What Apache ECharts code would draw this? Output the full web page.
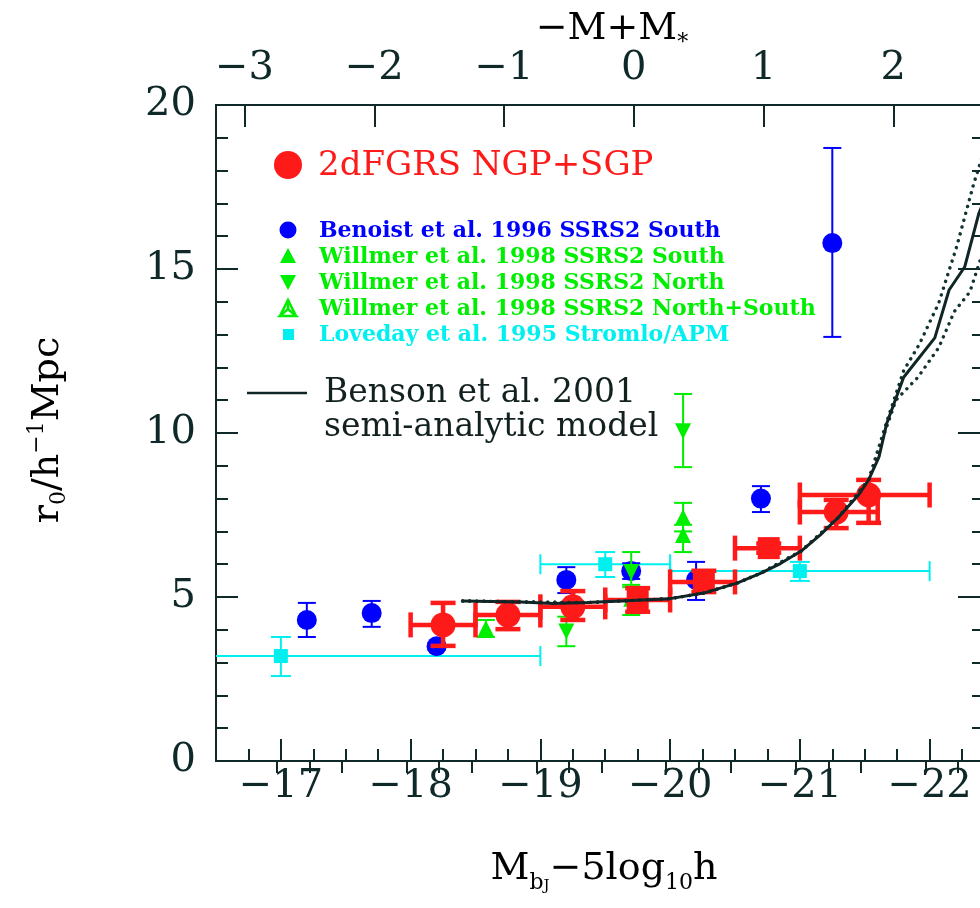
<!DOCTYPE html>
<html><head><meta charset="utf-8">
<script src="https://cdn.jsdelivr.net/npm/echarts@6/dist/echarts.min.js"></script>
<style>html,body{margin:0;padding:0;background:#fff}#c{width:980px;height:908px}</style>
</head><body><div id="c"></div>
<script>
// ---------------- axes ----------------
const X_MIN = -22.45, X_MAX = -16.5;          // M_bJ - 5log10 h (reversed axis)
const M_STAR = -19.72;                          // top axis: -M + M*
const Y_MIN = 0, Y_MAX = 20;
const xMajorTicks = [-17, -18, -19, -20, -21, -22];
const xMinorTicks = [-16.75, -17.25, -17.5, -17.75, -18.25, -18.5, -18.75, -19.25, -19.5, -19.75,
  -20.25, -20.5, -20.75, -21.25, -21.5, -21.75, -22.25];
const topMajorTicks = [-3, -2, -1, 0, 1, 2];
const topMinorTicks = [-2.75, -2.5, -2.25, -1.75, -1.5, -1.25, -0.75, -0.5, -0.25,
  0.25, 0.5, 0.75, 1.25, 1.5, 1.75, 2.25, 2.5];

// ---------------- 2dFGRS NGP+SGP (red) ----------------
const red_M   = [-18.25, -18.75, -19.25, -19.75, -20.26, -20.76, -21.28, -21.53];
const red_r   = [4.15, 4.45, 4.70, 4.91, 5.46, 6.49, 7.59, 8.11];
const red_rlo = [3.51, 4.02, 4.30, 4.55, 5.15, 6.35, 7.10, 7.26];
const red_rhi = [4.82, 4.85, 5.18, 5.27, 5.80, 6.63, 7.96, 8.57];
const red_Mlo = [-18.0, -18.5, -19.0, -19.5, -20.0, -20.5, -21.0, -21.0];
const red_Mhi = [-18.5, -19.0, -19.5, -20.0, -20.5, -21.0, -21.6, -22.0];
const red_sym = ['circle', 'circle', 'circle', 'rect', 'rect', 'rect', 'circle', 'circle'];

// ---------------- Benoist et al. 1996 (blue) ----------------
const ben_M   = [-17.20, -17.70, -18.20, -19.20, -19.70, -20.20, -20.70, -21.25];
const ben_r   = [4.30, 4.51, 3.50, 5.52, 5.79, 5.52, 8.00, 15.79];
const ben_rlo = [3.78, 4.09, 3.40, 5.12, 5.55, 4.91, 7.59, 12.93];
const ben_rhi = [4.82, 4.88, 3.60, 5.91, 6.03, 6.07, 8.38, 18.69];

// ---------------- Willmer et al. 1998 (green) ----------------
const wS_M   = [-18.58, -19.70, -20.10];
const wS_r   = [4.05, 4.95, 7.44];
const wS_rlo = [3.78, 4.45, 7.00];
const wS_rhi = [4.30, 5.30, 7.87];
const wN_M   = [-19.20, -19.70, -20.10];
const wN_r   = [3.95, 5.76, 10.05];
const wN_rlo = [3.50, 5.37, 8.96];
const wN_rhi = [4.40, 6.37, 11.19];
const wNS_M   = [-20.10];
const wNS_r   = [6.89];
const wNS_rlo = [6.37];
const wNS_rhi = [7.20];

// ---------------- Loveday et al. 1995 (cyan) ----------------
const lov_M   = [-17.0, -19.5, -21.0];
const lov_r   = [3.20, 6.00, 5.79];
const lov_rlo = [2.59, 5.61, 5.49];
const lov_rhi = [3.78, 6.37, 6.07];
const lov_Mlo = [-16.0, -19.0, -20.0];
const lov_Mhi = [-19.0, -20.0, -22.0];

// ---------------- Benson et al. 2001 model ----------------
const model_M = [-18.40, -18.85, -19.10, -19.36, -19.62, -20.00, -20.26, -20.52, -20.70, -20.85,
  -21.01, -21.16, -21.30, -21.45, -21.53, -21.61, -21.67, -21.80, -22.04, -22.15, -22.27, -22.38, -22.50];
const model_r = [4.88, 4.85, 4.80, 4.83, 4.88, 4.95, 5.12, 5.43, 5.73, 6.02,
  6.40, 6.90, 7.44, 8.10, 8.57, 9.27, 10.30, 11.70, 12.90, 14.36, 15.06, 16.70, 17.90];
const modelHi_M = [-18.40, -18.85, -19.36, -19.62, -20.00, -20.26, -20.52, -20.70, -21.01, -21.30,
  -21.53, -21.67, -21.80, -21.92, -22.07, -22.21, -22.34, -22.50];
const modelHi_r = [4.88, 4.85, 4.83, 4.88, 4.95, 5.12, 5.43, 5.73, 6.40, 7.44,
  8.57, 10.35, 11.90, 12.70, 13.96, 15.70, 17.60, 19.60];
const modelLo_M = [-18.40, -18.85, -19.36, -19.62, -20.00, -20.26, -20.52, -20.70, -21.01, -21.30,
  -21.53, -21.67, -21.74, -21.91, -22.07, -22.19, -22.31, -22.50];
const modelLo_r = [4.88, 4.85, 4.83, 4.88, 4.95, 5.12, 5.43, 5.73, 6.40, 7.44,
  8.57, 10.20, 11.00, 11.70, 12.60, 13.70, 14.30, 16.60];

// ---------------- colours / fonts ----------------
const AX = '#0f2828';
const RED = '#ff1a1a', BLUE = '#0000ff', GREEN = '#00ee00', CYAN = '#00f0f0';
const SERIF = '"DejaVu Serif", "Liberation Serif", serif';
const minus = v => String(v).replace('-', '\u2212');

function errRender(color, lw, cap, hasX) {
  return function (params, api) {
    const x = api.value(0), y = api.value(1);
    const st = { stroke: color, lineWidth: lw, fill: null };
    const kids = [];
    const seg = (a, b) => kids.push({ type: 'line', shape: { x1: a[0], y1: a[1], x2: b[0], y2: b[1] }, style: st });
    const lo = api.coord([x, api.value(2)]), hi = api.coord([x, api.value(3)]);
    seg(lo, hi);
    seg([lo[0] - cap / 2, lo[1]], [lo[0] + cap / 2, lo[1]]);
    seg([hi[0] - cap / 2, hi[1]], [hi[0] + cap / 2, hi[1]]);
    if (hasX) {
      const l = api.coord([api.value(4), y]), r = api.coord([api.value(5), y]);
      seg(l, r);
      seg([l[0], l[1] - cap / 2], [l[0], l[1] + cap / 2]);
      seg([r[0], r[1] - cap / 2], [r[0], r[1] + cap / 2]);
    }
    const cs = params.coordSys;
    return { type: 'group', children: kids,
      clipPath: { type: 'rect', shape: { x: cs.x, y: cs.y, width: cs.width, height: cs.height } } };
  };
}
function errSeries(name, M, r, lo, hi, Mlo, Mhi, color, lw, cap, z) {
  const hasX = !!Mlo;
  const data = M.map((m, i) => hasX ? [m, r[i], lo[i], hi[i], Mlo[i], Mhi[i]] : [m, r[i], lo[i], hi[i]]);
  return { type: 'custom', name: name + ' err', data, renderItem: errRender(color, lw, cap, hasX),
    encode: { x: 0, y: 1 }, z, silent: true };
}
function pts(M, r) { return M.map((m, i) => [m, r[i]]); }

const TRI_PATH = 'path://M0,-10L8.66,5L-8.66,5Z';

const chart = echarts.init(document.getElementById('c'), null, { renderer: 'canvas' });

const grid = { left: 216, top: 105, width: 772, height: 656, outerBoundsMode: 'none', containLabel: false };
const tickStyle = { color: AX, width: 2 };

const option = {
  backgroundColor: '#fff',
  animation: false,
  grid,
  xAxis: [
    { type: 'value', min: X_MIN, max: X_MAX, inverse: true, position: 'bottom',
      axisLine: { show: true, onZero: false, lineStyle: { color: AX, width: 2 } },
      axisTick: { show: true, inside: true, length: 22, customValues: xMajorTicks, lineStyle: tickStyle },
      axisLabel: { show: true, customValues: xMajorTicks, margin: 6, formatter: minus,
        fontFamily: SERIF, fontSize: 40, color: AX },
      splitLine: { show: false } },
    { type: 'value', min: X_MIN, max: X_MAX, inverse: true, position: 'bottom',
      axisLine: { show: false },
      axisTick: { show: true, inside: true, length: 12, customValues: xMinorTicks, lineStyle: tickStyle },
      axisLabel: { show: false }, splitLine: { show: false } },
    { type: 'value', min: -X_MAX + M_STAR, max: -X_MIN + M_STAR, position: 'top',
      axisLine: { show: true, onZero: false, lineStyle: { color: AX, width: 2 } },
      axisTick: { show: true, inside: true, length: 22, customValues: topMajorTicks, lineStyle: tickStyle },
      axisLabel: { show: true, customValues: topMajorTicks, margin: 16, formatter: minus,
        fontFamily: SERIF, fontSize: 40, color: AX },
      splitLine: { show: false } },
    { type: 'value', min: -X_MAX + M_STAR, max: -X_MIN + M_STAR, position: 'top',
      axisLine: { show: false },
      axisTick: { show: true, inside: true, length: 12, customValues: topMinorTicks, lineStyle: tickStyle },
      axisLabel: { show: false }, splitLine: { show: false } }
  ],
  yAxis: [
    { type: 'value', min: Y_MIN, max: Y_MAX, interval: 5, position: 'left',
      axisLine: { show: true, onZero: false, lineStyle: { color: AX, width: 2 } },
      axisTick: { show: true, inside: true, length: 22, lineStyle: tickStyle },
      minorTick: { show: true, splitNumber: 5, length: 12, lineStyle: tickStyle },
      axisLabel: { show: true, margin: 20, fontFamily: SERIF, fontSize: 40, color: AX },
      splitLine: { show: false }, minorSplitLine: { show: false } },
    { type: 'value', min: Y_MIN, max: Y_MAX, interval: 5, position: 'right',
      axisLine: { show: true, onZero: false, lineStyle: { color: AX, width: 2 } },
      axisTick: { show: true, inside: true, length: 30, lineStyle: tickStyle },
      minorTick: { show: true, splitNumber: 5, length: 16, lineStyle: tickStyle },
      axisLabel: { show: false }, splitLine: { show: false }, minorSplitLine: { show: false } }
  ],
  series: [
    errSeries('Loveday', lov_M, lov_r, lov_rlo, lov_rhi, lov_Mlo, lov_Mhi, CYAN, 2, 20, 2),
    { type: 'scatter', name: 'Loveday', data: pts(lov_M, lov_r), symbol: 'rect', symbolSize: 14,
      itemStyle: { color: CYAN, opacity: 1 }, z: 3 },
    errSeries('Benoist', ben_M, ben_r, ben_rlo, ben_rhi, null, null, BLUE, 2, 18, 4),
    { type: 'scatter', name: 'Benoist', data: pts(ben_M, ben_r), symbol: 'circle', symbolSize: 20,
      itemStyle: { color: BLUE, opacity: 1 }, z: 5 },
    errSeries('Willmer S', wS_M, wS_r, wS_rlo, wS_rhi, null, null, GREEN, 2, 18, 6),
    errSeries('Willmer N', wN_M, wN_r, wN_rlo, wN_rhi, null, null, GREEN, 2, 18, 6),
    errSeries('Willmer NS', wNS_M, wNS_r, wNS_rlo, wNS_rhi, null, null, GREEN, 2, 18, 6),
    { type: 'scatter', name: 'Willmer S', data: pts(wS_M, wS_r), symbol: 'triangle', symbolSize: 16,
      itemStyle: { color: GREEN, opacity: 1 }, z: 7 },
    { type: 'scatter', name: 'Willmer N', data: pts(wN_M, wN_r), symbol: 'triangle', symbolRotate: 180,
      symbolSize: 16, itemStyle: { color: GREEN, opacity: 1 }, z: 7 },
    { type: 'scatter', name: 'Willmer NS', data: pts(wNS_M, wNS_r), symbol: TRI_PATH, symbolSize: 16,
      itemStyle: { color: GREEN, opacity: 1 }, z: 7 },
    errSeries('2dFGRS', red_M, red_r, red_rlo, red_rhi, red_Mlo, red_Mhi, RED, 4.5, 25, 8),
    { type: 'scatter', name: '2dFGRS',
      data: red_M.map((m, i) => ({ value: [m, red_r[i]], symbol: red_sym[i],
        symbolSize: red_sym[i] === 'rect' ? 22 : 25 })),
      itemStyle: { color: RED, opacity: 1 }, z: 9 },
    { type: 'line', name: 'model upper', data: pts(modelHi_M, modelHi_r), showSymbol: false, symbol: 'none',
      lineStyle: { color: '#123333', width: 3.4, type: [0.1, 7], cap: 'round' }, z: 10, silent: true },
    { type: 'line', name: 'model lower', data: pts(modelLo_M, modelLo_r), showSymbol: false, symbol: 'none',
      lineStyle: { color: '#123333', width: 3.4, type: [0.1, 7], cap: 'round' }, z: 10, silent: true },
    { type: 'line', name: 'Benson et al. 2001', data: pts(model_M, model_r), showSymbol: false, symbol: 'none',
      lineStyle: { color: '#102525', width: 3 }, z: 11, silent: true }
  ],
  graphic: [
    // legend
    { type: 'circle', shape: { cx: 288, cy: 165, r: 14 }, style: { fill: RED }, z: 100 },
    { type: 'text', x: 318, y: 166, style: { text: '2dFGRS NGP+SGP', fill: RED, font: '34px ' + SERIF,
      verticalAlign: 'middle' }, z: 100 },
    { type: 'circle', shape: { cx: 288, cy: 230, r: 8.5 }, style: { fill: BLUE }, z: 100 },
    { type: 'text', x: 319, y: 231, style: { text: 'Benoist et al. 1996 SSRS2 South', fill: BLUE,
      font: 'bold 22px ' + SERIF, verticalAlign: 'middle' }, z: 100 },
    { type: 'polygon', shape: { points: [[288, 248], [296, 263], [280, 263]] }, style: { fill: GREEN }, z: 100 },
    { type: 'text', x: 319, y: 257, style: { text: 'Willmer et al. 1998 SSRS2 South', fill: GREEN,
      font: 'bold 22px ' + SERIF, verticalAlign: 'middle' }, z: 100 },
    { type: 'polygon', shape: { points: [[280, 275], [296, 275], [288, 290]] }, style: { fill: GREEN }, z: 100 },
    { type: 'text', x: 319, y: 283, style: { text: 'Willmer et al. 1998 SSRS2 North', fill: GREEN,
      font: 'bold 22px ' + SERIF, verticalAlign: 'middle' }, z: 100 },
    { type: 'polyline', shape: { points: [[288, 300], [288, 309], [280, 316], [296, 316], [288, 309]] },
      style: { stroke: GREEN, lineWidth: 2.5, fill: null }, z: 100 },
    { type: 'polyline', shape: { points: [[280, 316], [288, 300], [296, 316]] },
      style: { stroke: GREEN, lineWidth: 2.5, fill: null }, z: 100 },
    { type: 'text', x: 319, y: 309, style: { text: 'Willmer et al. 1998 SSRS2 North+South', fill: GREEN,
      font: 'bold 22px ' + SERIF, verticalAlign: 'middle' }, z: 100 },
    { type: 'rect', shape: { x: 283, y: 329, width: 11, height: 11 }, style: { fill: CYAN }, z: 100 },
    { type: 'text', x: 319, y: 335, style: { text: 'Loveday et al. 1995 Stromlo/APM', fill: CYAN,
      font: 'bold 22px ' + SERIF, verticalAlign: 'middle' }, z: 100 },
    { type: 'line', shape: { x1: 247, y1: 393, x2: 307, y2: 393 }, style: { stroke: '#102525', lineWidth: 2.6 }, z: 100 },
    { type: 'text', x: 324, y: 393, style: { text: 'Benson et al. 2001', fill: '#122020',
      font: '33px ' + SERIF, verticalAlign: 'middle' }, z: 100 },
    { type: 'text', x: 324, y: 427, style: { text: 'semi-analytic model', fill: '#122020',
      font: '33px ' + SERIF, verticalAlign: 'middle' }, z: 100 },
    // axis titles
    { type: 'text', x: 612, y: 32, style: {
        text: '{m|\u2212M+M}{s|*}', align: 'center', verticalAlign: 'middle',
        rich: { m: { fontFamily: SERIF, fontSize: 38, color: AX, lineHeight: 44, verticalAlign: 'top' },
                s: { fontFamily: SERIF, fontSize: 22, color: AX, lineHeight: 22, verticalAlign: 'bottom', padding: [26, 0, 0, 0] } } },
      z: 100 },
    { type: 'text', x: 604, y: 872, style: {
        text: '{m|M}{s|b}{t|J}{m|\u22125log}{s|10}{m|h}', align: 'center', verticalAlign: 'middle',
        rich: { m: { fontFamily: SERIF, fontSize: 38, color: AX, lineHeight: 44, verticalAlign: 'top' },
                s: { fontFamily: SERIF, fontSize: 22, color: AX, lineHeight: 22, verticalAlign: 'bottom', padding: [26, 0, 0, 0] },
                t: { fontFamily: SERIF, fontSize: 15, color: AX, lineHeight: 15, verticalAlign: 'bottom', padding: [36, 0, 0, 0] } } },
      z: 100 },
    { type: 'text', x: 48, y: 430, rotation: Math.PI / 2, style: {
        text: '{m|r}{s|0}{m|/h}{p|\u22121}{m|Mpc}', align: 'center', verticalAlign: 'middle',
        rich: { m: { fontFamily: SERIF, fontSize: 38, color: AX, lineHeight: 44, verticalAlign: 'middle' },
                s: { fontFamily: SERIF, fontSize: 22, color: AX, lineHeight: 22, verticalAlign: 'bottom' },
                p: { fontFamily: SERIF, fontSize: 22, color: AX, lineHeight: 22, verticalAlign: 'top' } } },
      z: 100 }
  ]
};
chart.setOption(option);
</script>
</body></html>
